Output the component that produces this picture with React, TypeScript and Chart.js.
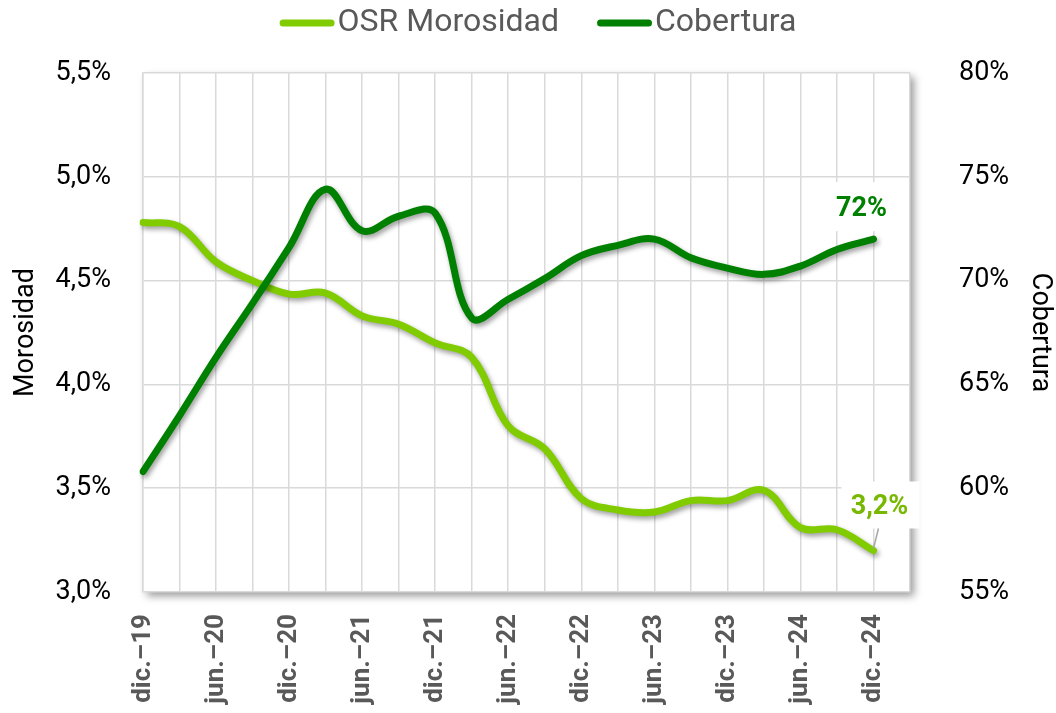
import React, { useEffect, useRef } from "react";
import { Chart, registerables } from "chart.js";
Chart.register(...registerables);

const quarters = [
  "dic.–19", "mar.–20", "jun.–20", "sep.–20", "dic.–20", "mar.–21", "jun.–21",
  "sep.–21", "dic.–21", "mar.–22", "jun.–22", "sep.–22", "dic.–22", "mar.–23",
  "jun.–23", "sep.–23", "dic.–23", "mar.–24", "jun.–24", "sep.–24", "dic.–24",
];
const morosidad = [
  4.78, 4.76, 4.59, 4.5, 4.435, 4.44, 4.33, 4.29, 4.2, 4.13, 3.8, 3.69, 3.45,
  3.395, 3.385, 3.44, 3.44, 3.49, 3.31, 3.3, 3.2,
];
const cobertura = [
  60.8, 63.5, 66.3, 68.9, 71.6, 74.4, 72.4, 73.1, 73.25, 68.2, 69.1, 70.1, 71.2,
  71.7, 72.0, 71.1, 70.6, 70.3, 70.7, 71.5, 72.0,
];
const seriesNames = ["OSR Morosidad", "Cobertura"];
const leftTicks = { min: 3.0, max: 5.5, step: 0.5 };
const rightTicks = { min: 55, max: 80, step: 5 };

const LIGHT = "#80CC00";
const DARK = "#008000";
const LABEL_LIGHT = "#78B800";
const FONT = "Roboto";

const fmtLeft = (v: number) => v.toFixed(1).replace(".", ",") + "%";
const fmtRight = (v: number) => Math.round(v) + "%";

export default function App() {
  const ref = useRef<HTMLCanvasElement | null>(null);

  useEffect(() => {
    document.body.style.margin = "0";
    const canvas = ref.current!;
    const labels = [...quarters, ""];

    const plotShadow = {
      id: "plotShadow",
      beforeDraw(chart: any) {
        const { ctx, chartArea: a } = chart;
        ctx.save();
        ctx.shadowColor = "rgba(0,0,0,0.4)";
        ctx.shadowBlur = 8;
        ctx.shadowOffsetX = 4;
        ctx.shadowOffsetY = 4;
        ctx.fillStyle = "#fff";
        ctx.fillRect(a.left, a.top, a.right - a.left, a.bottom - a.top);
        ctx.restore();
      },
    };

    const lineShadow = {
      id: "lineShadow",
      beforeDatasetDraw(chart: any) {
        const ctx = chart.ctx;
        ctx.save();
        ctx.shadowColor = "rgba(0,0,0,0.38)";
        ctx.shadowBlur = 5;
        ctx.shadowOffsetX = 2;
        ctx.shadowOffsetY = 3;
      },
      afterDatasetDraw(chart: any) {
        chart.ctx.restore();
      },
    };

    const customLegend = {
      id: "customLegend",
      afterDraw(chart: any) {
        const ctx = chart.ctx;
        ctx.save();
        ctx.font = `32px ${FONT}`;
        ctx.textBaseline = "middle";
        const sw = 55, gap = 3, spacing = 38;
        const colors = [LIGHT, DARK];
        const widths = seriesNames.map((t) => ctx.measureText(t).width);
        const total = widths.reduce((s, w) => s + sw + gap + w, 0) + spacing;
        let x = 538 - total / 2;
        const y = 23;
        seriesNames.forEach((t, i) => {
          ctx.strokeStyle = colors[i];
          ctx.lineWidth = 7;
          ctx.lineCap = "round";
          ctx.beginPath();
          ctx.moveTo(x + 3.5, y);
          ctx.lineTo(x + sw - 3.5, y);
          ctx.stroke();
          ctx.fillStyle = "#595959";
          ctx.fillText(t, x + sw + gap, y);
          x += sw + gap + widths[i] + spacing;
        });
        ctx.restore();
      },
    };

    const endLabels = {
      id: "endLabels",
      beforeDatasetsDraw(chart: any) {
        const ctx = chart.ctx;
        const p0 = chart.getDatasetMeta(0).data[morosidad.length - 1];
        const p1 = chart.getDatasetMeta(1).data[cobertura.length - 1];
        ctx.save();
        ctx.fillStyle = "#fff";
        ctx.fillRect(p1.x - 50, p1.y - 57, 72, 49);
        ctx.fillRect(p0.x - 32, p0.y - 69, 78, 47);
        ctx.restore();
      },
      afterDatasetsDraw(chart: any) {
        const ctx = chart.ctx;
        const p0 = chart.getDatasetMeta(0).data[morosidad.length - 1];
        const p1 = chart.getDatasetMeta(1).data[cobertura.length - 1];
        ctx.save();
        ctx.strokeStyle = "#a6a6a6";
        ctx.lineWidth = 1.5;
        ctx.beginPath();
        ctx.moveTo(p0.x, p0.y - 2);
        ctx.lineTo(p0.x + 5, p0.y - 22);
        ctx.stroke();
        ctx.font = `bold 27px ${FONT}`;
        ctx.textAlign = "center";
        ctx.textBaseline = "middle";
        ctx.fillStyle = DARK;
        ctx.fillText(fmtRight(cobertura[cobertura.length - 1]), p1.x - 12, p1.y - 30);
        ctx.fillStyle = LABEL_LIGHT;
        ctx.fillText(fmtLeft(morosidad[morosidad.length - 1]), p0.x + 6, p0.y - 43);
        ctx.restore();
      },
    };

    const chart = new Chart(canvas, {
      type: "line",
      data: {
        labels,
        datasets: [
          {
            label: seriesNames[0],
            data: morosidad,
            yAxisID: "y",
            borderColor: LIGHT,
            backgroundColor: LIGHT,
            borderWidth: 7,
            borderCapStyle: "round",
            pointRadius: 0,
            tension: 0.38,
            order: 2,
          },
          {
            label: seriesNames[1],
            data: cobertura,
            yAxisID: "y1",
            borderColor: DARK,
            backgroundColor: DARK,
            borderWidth: 7,
            borderCapStyle: "round",
            pointRadius: 0,
            tension: 0.38,
            order: 1,
          },
        ],
      },
      options: {
        responsive: false,
        animation: false,
        layout: { padding: { top: 73, left: 0, right: 0, bottom: 0 } },
        plugins: {
          legend: { display: false },
          tooltip: { enabled: false },
        },
        scales: {
          x: {
            offset: false,
            afterFit: (s: any) => {
              s.height = 121;
            },
            grid: { color: "#d9d9d9", lineWidth: 1.5, drawTicks: false },
            border: { display: false },
            ticks: {
              autoSkip: false,
              maxRotation: 90,
              minRotation: 90,
              padding: 22,
              color: "#595959",
              font: { family: FONT, size: 26, weight: "bold" },
              callback: (_v: any, i: number) => (i % 2 === 0 ? labels[i] : ""),
            },
          },
          y: {
            position: "left",
            min: leftTicks.min,
            max: leftTicks.max,
            afterFit: (s: any) => {
              s.width = 143;
            },
            grid: { color: "#d9d9d9", lineWidth: 1.5, drawTicks: false },
            border: { display: true, color: "#d9d9d9", width: 1.5 },
            ticks: {
              stepSize: leftTicks.step,
              padding: 32,
              color: "#000",
              font: { family: FONT, size: 27 },
              callback: (v: any) => fmtLeft(Number(v)),
            },
            title: {
              display: true,
              text: "Morosidad",
              color: "#000",
              font: { family: FONT, size: 27 },
              padding: { top: 10, bottom: 0 },
            },
          },
          y1: {
            position: "right",
            min: rightTicks.min,
            max: rightTicks.max,
            afterFit: (s: any) => {
              s.width = 146;
            },
            grid: { display: false, drawTicks: false },
            border: { display: false },
            ticks: {
              stepSize: rightTicks.step,
              padding: 49,
              color: "#000",
              font: { family: FONT, size: 27 },
              callback: (v: any) => fmtRight(Number(v)),
            },
            title: {
              display: true,
              text: "Cobertura",
              color: "#000",
              font: { family: FONT, size: 27 },
              padding: { top: 0, bottom: 0 },
            },
          },
        },
      },
      plugins: [plotShadow, lineShadow, endLabels, customLegend],
    } as any);

    return () => chart.destroy();
  }, []);

  return (
    <div style={{ width: 1056, height: 713, background: "#fff" }}>
      <canvas ref={ref} width={1056} height={713} style={{ display: "block" }} />
    </div>
  );
}
